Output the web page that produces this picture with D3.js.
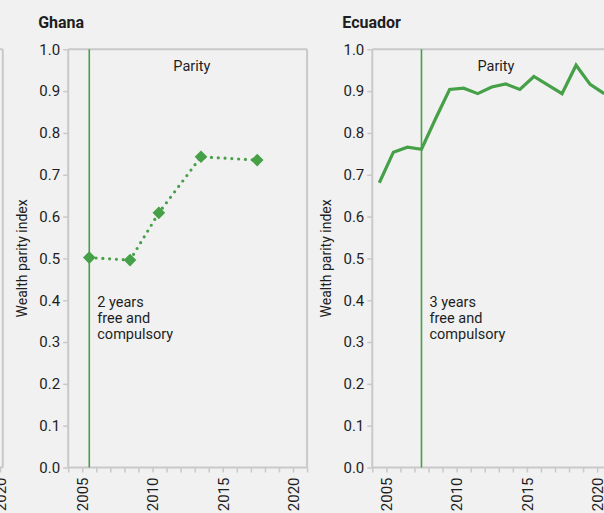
<!DOCTYPE html>
<html>
<head>
<meta charset="utf-8">
<script src="https://cdn.jsdelivr.net/npm/d3@7"></script>
<style>
  html, body { margin: 0; padding: 0; background: #f1f1f1; }
  svg { display: block; font-family: Roboto, "Noto Sans", sans-serif; }
</style>
</head>
<body>
<svg id="chart" width="604" height="513"></svg>
<script>
// ---- data ----
const yTicks = [0, 0.1, 0.2, 0.3, 0.4, 0.5, 0.6, 0.7, 0.8, 0.9, 1.0];
const xTickLabels = [2005, 2010, 2015, 2020];

const ghanaYears = [2005.5, 2008.4, 2010.45, 2013.45, 2017.45];
const ghanaValues = [0.502, 0.496, 0.609, 0.743, 0.735];
const ghanaPolicyYear = 2005.5;
const ghanaNote = ["2 years", "free and", "compulsory"];

const ecuadorYears = [2004.5, 2005.5, 2006.5, 2007.5, 2008.5, 2009.5, 2010.5, 2011.5, 2012.5, 2013.5, 2014.5, 2015.5, 2017.5, 2018.5, 2019.5, 2020.5];
const ecuadorValues = [0.681, 0.754, 0.766, 0.761, 0.834, 0.904, 0.907, 0.894, 0.910, 0.917, 0.904, 0.935, 0.894, 0.962, 0.916, 0.894];
const ecuadorPolicyYear = 2007.5;
const ecuadorNote = ["3 years", "free and", "compulsory"];

const parityLabelYear = 2012.8;

// ---- layout ----
const svg = d3.select("#chart");
const W = 604, H = 513;
const plotTop = 49.3, plotBottom = 467.5;
const plotW = 238.9;
const green = "#45a047";
const frame = "#c9c9c9";
const textCol = "#1e1e1e";

svg.append("rect").attr("width", W).attr("height", H).attr("fill", "#f1f1f1");

const y = d3.scaleLinear().domain([0, 1]).range([plotBottom, plotTop]);

function drawFrame(g, x, opts) {
  const [x0, x1] = x.range();
  g.append("line").attr("x1", x0).attr("x2", x1).attr("y1", plotTop).attr("y2", plotTop)
    .attr("stroke", frame).attr("stroke-width", 2);
  g.append("line").attr("x1", x1).attr("x2", x1).attr("y1", plotTop).attr("y2", plotBottom)
    .attr("stroke", frame).attr("stroke-width", 2);
  g.append("line").attr("x1", x0).attr("x2", x0).attr("y1", plotTop).attr("y2", plotBottom)
    .attr("stroke", frame).attr("stroke-width", 2);
  g.append("line").attr("x1", x0).attr("x2", x1).attr("y1", plotBottom).attr("y2", plotBottom)
    .attr("stroke", frame).attr("stroke-width", 2);

  const [d0, d1] = x.domain();
  const years = d3.range(Math.ceil(d0), Math.floor(d1) + 1);
  const xAxis = d3.axisBottom(x).tickValues(years).tickSize(5).tickFormat(d => xTickLabels.includes(d) ? d : "");
  const ax = g.append("g").attr("transform", `translate(0,${plotBottom})`).call(xAxis);
  ax.select(".domain").remove();
  ax.selectAll(".tick line").attr("stroke", frame).attr("stroke-width", 1.5);
  ax.selectAll(".tick text")
    .attr("transform", "rotate(-90)")
    .attr("x", -10).attr("y", 0).attr("dy", "0.35em")
    .attr("text-anchor", "end")
    .attr("font-size", 15).attr("fill", textCol)
    .style("font-family", "Roboto, sans-serif");

  if (opts.yAxis) {
    const yAxis = d3.axisLeft(y).tickValues(yTicks).tickSize(5).tickPadding(3).tickFormat(d3.format(".1f"));
    const ay = g.append("g").attr("transform", `translate(${x0},0)`).call(yAxis);
    ay.select(".domain").remove();
    ay.selectAll(".tick line").attr("stroke", frame).attr("stroke-width", 1.5);
    ay.selectAll(".tick text").attr("font-size", 15).attr("fill", textCol)
      .style("font-family", "Roboto, sans-serif");
    g.append("text")
      .attr("transform", `translate(${x0 - 41},${(plotTop + plotBottom) / 2}) rotate(-90)`)
      .attr("text-anchor", "middle")
      .attr("font-size", 14).attr("fill", textCol)
      .text("Wealth parity index");
  }
}

function panel(offsetLeft, title, years, values, policyYear, note, dotted) {
  const x = d3.scaleLinear().domain([2004, 2021]).range([offsetLeft, offsetLeft + plotW]);
  const g = svg.append("g");
  drawFrame(g, x, { yAxis: true });

  g.append("text").attr("x", offsetLeft - 30).attr("y", 28)
    .attr("font-size", 16).attr("font-weight", 700).attr("fill", textCol)
    .text(title);

  g.append("text").attr("x", x(parityLabelYear)).attr("y", y(0.948))
    .attr("text-anchor", "middle").attr("font-size", 14.5).attr("fill", textCol)
    .text("Parity");

  g.append("line").attr("x1", x(policyYear)).attr("x2", x(policyYear))
    .attr("y1", y(1)).attr("y2", y(0))
    .attr("stroke", green).attr("stroke-width", 1.6);

  const t = g.append("text").attr("x", x(policyYear) + 8).attr("y", y(0.383))
    .attr("font-size", 14.5).attr("fill", textCol);
  note.forEach((s, i) => t.append("tspan").attr("x", x(policyYear) + 8).attr("dy", i === 0 ? 0 : 15.8).text(s));

  const pts = years.map((yr, i) => [yr, values[i]]);
  const line = d3.line().x(d => x(d[0])).y(d => y(d[1]));
  if (dotted) {
    g.append("path").attr("d", line(pts)).attr("fill", "none")
      .attr("stroke", green).attr("stroke-width", 3.2)
      .attr("stroke-linecap", "round").attr("stroke-dasharray", "0 6.8");
    g.selectAll(".pt").data(pts).join("path")
      .attr("d", d3.symbol(d3.symbolSquare, 80))
      .attr("transform", d => `translate(${x(d[0])},${y(d[1])}) rotate(45)`)
      .attr("fill", green);
  } else {
    g.append("path").attr("d", line(pts)).attr("fill", "none")
      .attr("stroke", green).attr("stroke-width", 3.2)
      .attr("stroke-linejoin", "miter");
  }
}

(function () {
  const x = d3.scaleLinear().domain([2003.2, 2020.2]).range([2.8 - plotW, 2.8]);
  const g = svg.append("g");
  drawFrame(g, x, { yAxis: false });
})();

panel(68.2, "Ghana", ghanaYears, ghanaValues, ghanaPolicyYear, ghanaNote, true);
panel(372.3, "Ecuador", ecuadorYears, ecuadorValues, ecuadorPolicyYear, ecuadorNote, false);
</script>
</body>
</html>
